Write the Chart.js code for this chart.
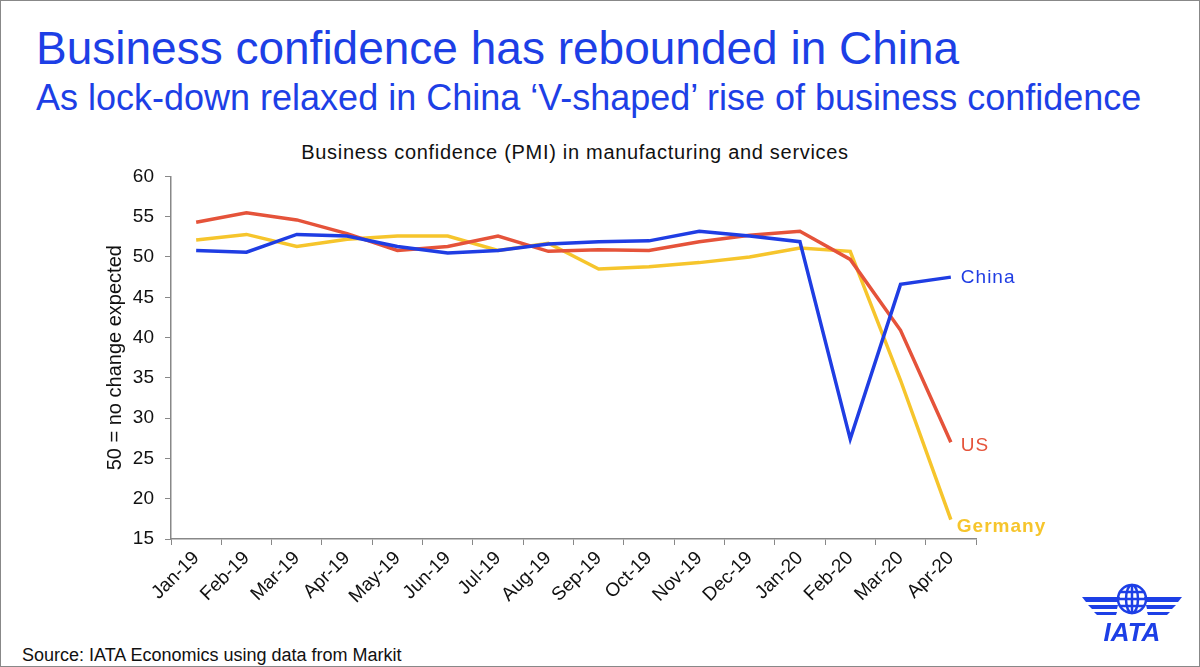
<!DOCTYPE html>
<html>
<head>
<meta charset="utf-8">
<script src="https://cdn.jsdelivr.net/npm/chart.js@4"></script>
<style>
  body { margin: 0; background: #fff; font-family: "Liberation Sans", Arial, sans-serif; }
  .frame { position: absolute; left: 0; top: 0; width: 1198px; height: 665px; border: 1px solid #888; }
  .title { position: absolute; left: 36px; top: 22px; font-size: 46px; line-height: 1.15; color: #1d3fe6; white-space: nowrap; }
  .subtitle { position: absolute; left: 36px; top: 77px; font-size: 36px; line-height: 1.15; color: #1d3fe6; white-space: nowrap; }
  .chart-title { position: absolute; left: 0; width: 1150px; top: 141px; text-align: center; font-size: 20px; letter-spacing: 0.7px; color: #111; }
  .source { position: absolute; left: 22px; top: 645px; font-size: 18px; color: #111; }
  .chart-box { position: absolute; left: 100px; top: 154px; width: 1100px; height: 481px; }
  .logo { position: absolute; left: 1082px; top: 582px; }
</style>
</head>
<body>
<div class="frame"></div>
<div class="title">Business confidence has rebounded in China</div>
<div class="subtitle">As lock-down relaxed in China ‘V-shaped’ rise of business confidence</div>
<div class="chart-title">Business confidence (PMI) in manufacturing and services</div>
<div class="chart-box"><canvas id="pmiChart"></canvas></div>
<div class="source">Source: IATA Economics using data from Markit</div>
<svg class="logo" width="100" height="62" viewBox="0 0 100 62">
  <g fill="#1d3fe6" stroke="none">
    <path d="M0 15 H38 L36 20 H4 Z"/>
    <path d="M6 23 H36 L35 27 H10 Z"/>
    <path d="M12 30 H35 L34 33 H15 Z"/>
    <path d="M100 15 H62 L64 20 H96 Z"/>
    <path d="M94 23 H64 L65 27 H90 Z"/>
    <path d="M88 30 H65 L66 33 H85 Z"/>
  </g>
  <g fill="none" stroke="#1d3fe6" stroke-width="2.5">
    <circle cx="50" cy="17" r="14"/>
    <ellipse cx="50" cy="17" rx="6" ry="14"/>
    <line x1="36" y1="17" x2="64" y2="17"/>
    <line x1="38" y1="10" x2="62" y2="10"/>
    <line x1="38" y1="24" x2="62" y2="24"/>
    <line x1="50" y1="3" x2="50" y2="31"/>
  </g>
  <text x="50" y="59" text-anchor="middle" font-family="Liberation Sans, Arial" font-weight="bold" font-style="italic" font-size="26" fill="#1d3fe6">IATA</text>
</svg>

<script>
const months = ['Jan-19', 'Feb-19', 'Mar-19', 'Apr-19', 'May-19', 'Jun-19', 'Jul-19', 'Aug-19',
  'Sep-19', 'Oct-19', 'Nov-19', 'Dec-19', 'Jan-20', 'Feb-20', 'Mar-20', 'Apr-20'];

const chinaPmi = [50.8, 50.6, 52.8, 52.6, 51.3, 50.5, 50.8, 51.6, 51.9, 52.0, 53.2, 52.6, 51.9, 27.4, 46.6, 47.5];
const usPmi = [54.3, 55.5, 54.6, 52.9, 50.8, 51.3, 52.6, 50.7, 50.9, 50.8, 51.9, 52.7, 53.2, 49.7, 40.9, 27.0];
const germanyPmi = [52.1, 52.8, 51.3, 52.2, 52.6, 52.6, 50.8, 51.7, 48.5, 48.8, 49.3, 50.0, 51.1, 50.7, 34.7, 17.4];

const yTicks = [15, 20, 25, 30, 35, 40, 45, 50, 55, 60];

const BLUE = '#1f3de3';
const RED = '#e5533a';
const YELLOW = '#f6c52c';
const FONT = '"Liberation Sans", Arial, sans-serif';

// names next to the last point of each line
const endLabels = {
  id: 'endLabels',
  afterDatasetsDraw(chart) {
    const ctx = chart.ctx;
    ctx.save();
    ctx.textBaseline = 'middle';
    ctx.textAlign = 'left';
    ctx.letterSpacing = '1px';
    chart.data.datasets.forEach((ds, i) => {
      const meta = chart.getDatasetMeta(i);
      const pt = meta.data[meta.data.length - 1];
      ctx.fillStyle = ds.borderColor;
      ctx.font = (ds.labelBold ? 'bold ' : '') + '19px ' + FONT;
      ctx.fillText(ds.label, pt.x + ds.labelDx, pt.y + ds.labelDy);
    });
    ctx.restore();
  }
};

new Chart(document.getElementById('pmiChart'), {
  type: 'line',
  data: {
    labels: months,
    datasets: [
      { label: 'China', data: chinaPmi, borderColor: BLUE, labelDx: 10, labelDy: 1 },
      { label: 'US', data: usPmi, borderColor: RED, labelDx: 10, labelDy: 3 },
      { label: 'Germany', data: germanyPmi, borderColor: YELLOW, labelDx: 6, labelDy: 7, labelBold: true }
    ].map(d => Object.assign(d, { borderWidth: 3.5, pointRadius: 0, tension: 0, fill: false }))
  },
  options: {
    responsive: true,
    maintainAspectRatio: false,
    animation: false,
    layout: { padding: { top: 0, right: 224, left: 0, bottom: 0 } },
    plugins: { legend: { display: false }, tooltip: { enabled: false } },
    scales: {
      x: {
        offset: true,
        grid: { display: true, drawOnChartArea: false, offset: true, tickLength: 6, color: '#888' },
        border: { color: '#888', width: 1.5 },
        ticks: {
          maxRotation: 45, minRotation: 45, autoSkip: false,
          color: '#111', padding: 2,
          font: { family: FONT, size: 19 }
        },
        afterFit: s => { s.height = 96; }
      },
      y: {
        min: 15, max: 60,
        afterBuildTicks: s => { s.ticks = yTicks.map(v => ({ value: v })); },
        grid: { display: true, drawOnChartArea: false, tickLength: 6, color: '#888' },
        border: { color: '#888', width: 1.5 },
        ticks: {
          color: '#111', padding: 11,
          font: { family: FONT, size: 19 }
        },
        title: {
          display: true, text: '50 = no change expected', color: '#111',
          font: { family: FONT, size: 20 },
          padding: { top: 3, bottom: 0 }
        },
        afterFit: s => { s.width = 71; }
      }
    }
  },
  plugins: [endLabels]
});
</script>
</body>
</html>
